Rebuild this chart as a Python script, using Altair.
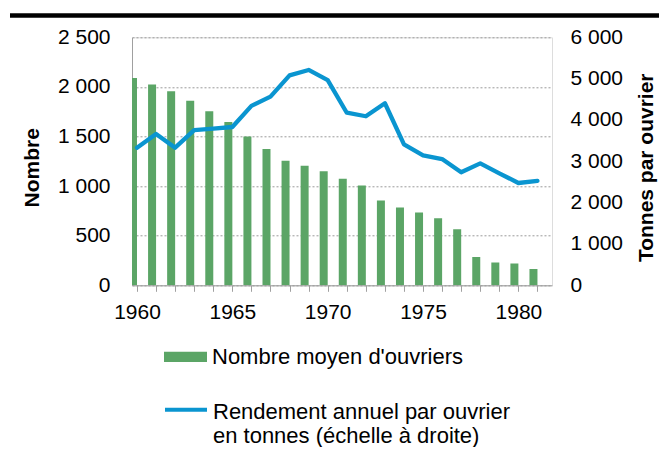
import altair as alt
import pandas as pd

years = list(range(1960, 1982))
ouvriers = [2090, 2025, 1955, 1860, 1755, 1645, 1500, 1375, 1255, 1205, 1150,
            1075, 1005, 855, 785, 735, 675, 565, 285, 230, 220, 165]
rendement = [3330, 3660, 3330, 3755, 3790, 3830, 4340, 4565, 5080, 5210, 4965,
             4175, 4090, 4405, 3410, 3145, 3055, 2735, 2950, 2710, 2475, 2525]
left_ticks = [0, 500, 1000, 1500, 2000, 2500]
right_ticks = [0, 1000, 2000, 3000, 4000, 5000, 6000]
label_bar = "Nombre moyen d'ouvriers"
label_line = "Rendement annuel par ouvrier|en tonnes (échelle à droite)"

GREEN = "#5ba566"
BLUE = "#0a95d0"
GRAY = "#a0a0a0"
FONT = "Liberation Sans"

df = pd.DataFrame({"annee": years, "ouvriers": ouvriers, "rendement": rendement,
                   "s1": label_bar, "s2": label_line})

num_fmt = "replace(format(datum.value, ','), ',', ' ')"

x_enc = alt.X("annee:Q",
              scale=alt.Scale(domain=[1960, 1981.5], nice=False, zero=False),
              axis=alt.Axis(values=years, labelExpr="datum.value % 5 == 0 ? toString(datum.value) : ''",
                            labelOverlap=False, labelFlush=False, grid=False, tickSize=6,
                            tickColor=GRAY, domainColor=GRAY, labelPadding=10,
                            labelFontSize=21, labelColor="#000", title=None))

bars = alt.Chart(df).mark_bar(width=8, xOffset=-4, clip=True).encode(
    x=x_enc,
    y=alt.Y("ouvriers:Q", scale=alt.Scale(domain=[0, 2500], nice=False),
            axis=alt.Axis(values=left_ticks, labelExpr=num_fmt, grid=True,
                          gridColor="#9a9a9a", gridDash=[2, 2], gridWidth=1,
                          ticks=False, tickSize=0, domainColor=GRAY, labelPadding=22,
                          labelFontSize=21, labelColor="#000",
                          title="Nombre", titleFontSize=21, titleFontWeight="bold",
                          titleColor="#000", titleAngle=270, titleAlign="center",
                          titleBaseline="middle", titleX=-100, titleY=130)),
    fill=alt.Fill("s1:N", scale=alt.Scale(domain=[label_bar], range=[GREEN]),
                  legend=alt.Legend(orient="none", legendX=32, legendY=298, title=None,
                                    symbolType="M-1,-0.24H1V0.24H-1Z", symbolSize=1849,
                                    symbolStrokeWidth=0, labelFontSize=22, labelColor="#000",
                                    labelOffset=5, padding=0, labelLimit=600)),
)

line = alt.Chart(df).mark_line(strokeWidth=4.3, strokeJoin="round", strokeCap="round").encode(
    x=x_enc,
    y=alt.Y("rendement:Q", scale=alt.Scale(domain=[0, 6000], nice=False),
            axis=alt.Axis(orient="right", values=right_ticks, labelExpr=num_fmt, grid=False,
                          ticks=False, tickSize=0, domain=False, labelPadding=18,
                          labelFontSize=21, labelColor="#000",
                          title="Tonnes par ouvrier", titleFontSize=21, titleFontWeight="bold",
                          titleColor="#000", titleAngle=270, titleAlign="center",
                          titleBaseline="middle", titleX=95, titleY=130)),
    stroke=alt.Stroke("s2:N", scale=alt.Scale(domain=[label_line], range=[BLUE]),
                      legend=alt.Legend(orient="none", legendX=31, legendY=352, title=None,
                                        symbolType="M-1,-0.12L1,-0.12", symbolSize=1764,
                                        symbolStrokeWidth=4, labelFontSize=22, labelColor="#000",
                                        labelOffset=4, padding=0, labelLimit=600,
                                        labelExpr="split(datum.label, '|')")),
)

top_rule = alt.Chart(pd.DataFrame({"k": [0]})).mark_rule(color="#000", strokeWidth=4.5).encode(
    x=alt.value(-122), x2=alt.value(527), y=alt.value(-21.8))

chart = alt.layer(bars, line, top_rule).resolve_scale(
    y="independent", fill="independent", stroke="independent"
).properties(
    width=420, height=248,
    autosize=alt.AutoSizeParams(type="none"),
    padding={"left": 124, "top": 29.3, "right": 107, "bottom": 162},
).configure_view(stroke=None).configure(font=FONT)

chart.save("out.html", embed_options={"renderer": "svg", "actions": False})
